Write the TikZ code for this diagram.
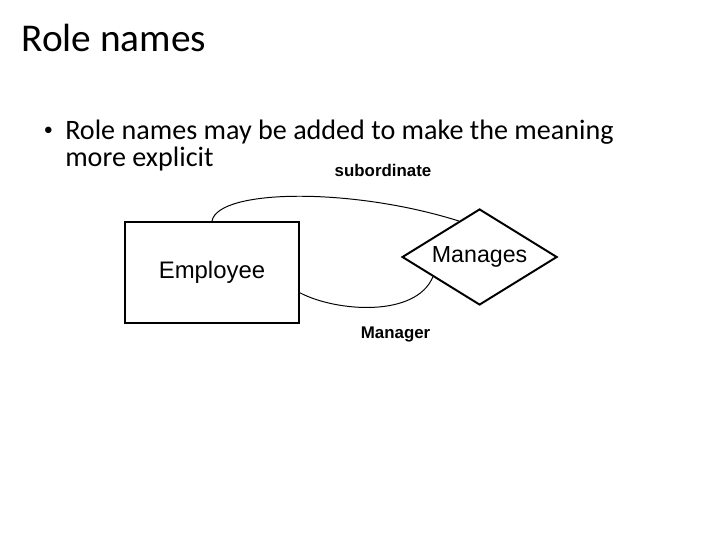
\documentclass[tikz,border=0pt]{standalone}
\usepackage{fontspec}
\setmainfont{Carlito}
\newfontfamily\arial{Liberation Sans}
\usepackage{tikz}
\usetikzlibrary{shapes.geometric}

\begin{document}
\begin{tikzpicture}[entity/.style={draw,line width=1.4pt,inner sep=0pt,
            minimum width=4.35cm,minimum height=2.525cm,font=\arial\fontsize{17}{18}\selectfont},
        relation/.style={draw,diamond,aspect=1.6,line width=1.4pt,inner sep=0pt,
            minimum width=3.875cm,minimum height=2.4cm,font=\arial\fontsize{16.5}{18}\selectfont},
        role/.style={anchor=base,font=\arial\bfseries\fontsize{12}{14}\selectfont},
        slide/.style={inner sep=0pt,font=\fontsize{20}{19.5}\selectfont},
        link/.style={line width=0.7pt}]
            \useasboundingbox (0,0) rectangle (18,13.5);
            \draw[anchor=base west,inner sep=0pt] (0.53,12.21) node(title){\fontsize{28}{32}\selectfont Role names};
            \draw[slide,anchor=base west,align=left] (1.625,9.3325)
            node(point){Role names may be added to make the meaning\\more explicit};
            \draw[slide,anchor=base east,font=\fontsize{13}{14}\selectfont] (1.33,10.1) node(dot){\textbullet};
            \node[entity] (emp) at (5.3,6.6875) {Employee\hspace{6pt}};
            \node[relation] (rel) at (11.99,7.075) {Manages};
            \draw[link] (emp.north) .. controls +(0.15,0.8) and +(-2.7,0.85) .. (rel.120);
            \draw[link] (emp.-13) .. controls +(0.9,-0.475) and +(-0.425,-1.025) .. (rel.203);
            \draw[role] (9.575,9.0825) node(sub){subordinate};
            \draw[role] (9.89,5.04) node(mgr){Manager};
        \end{tikzpicture}
\end{document}
